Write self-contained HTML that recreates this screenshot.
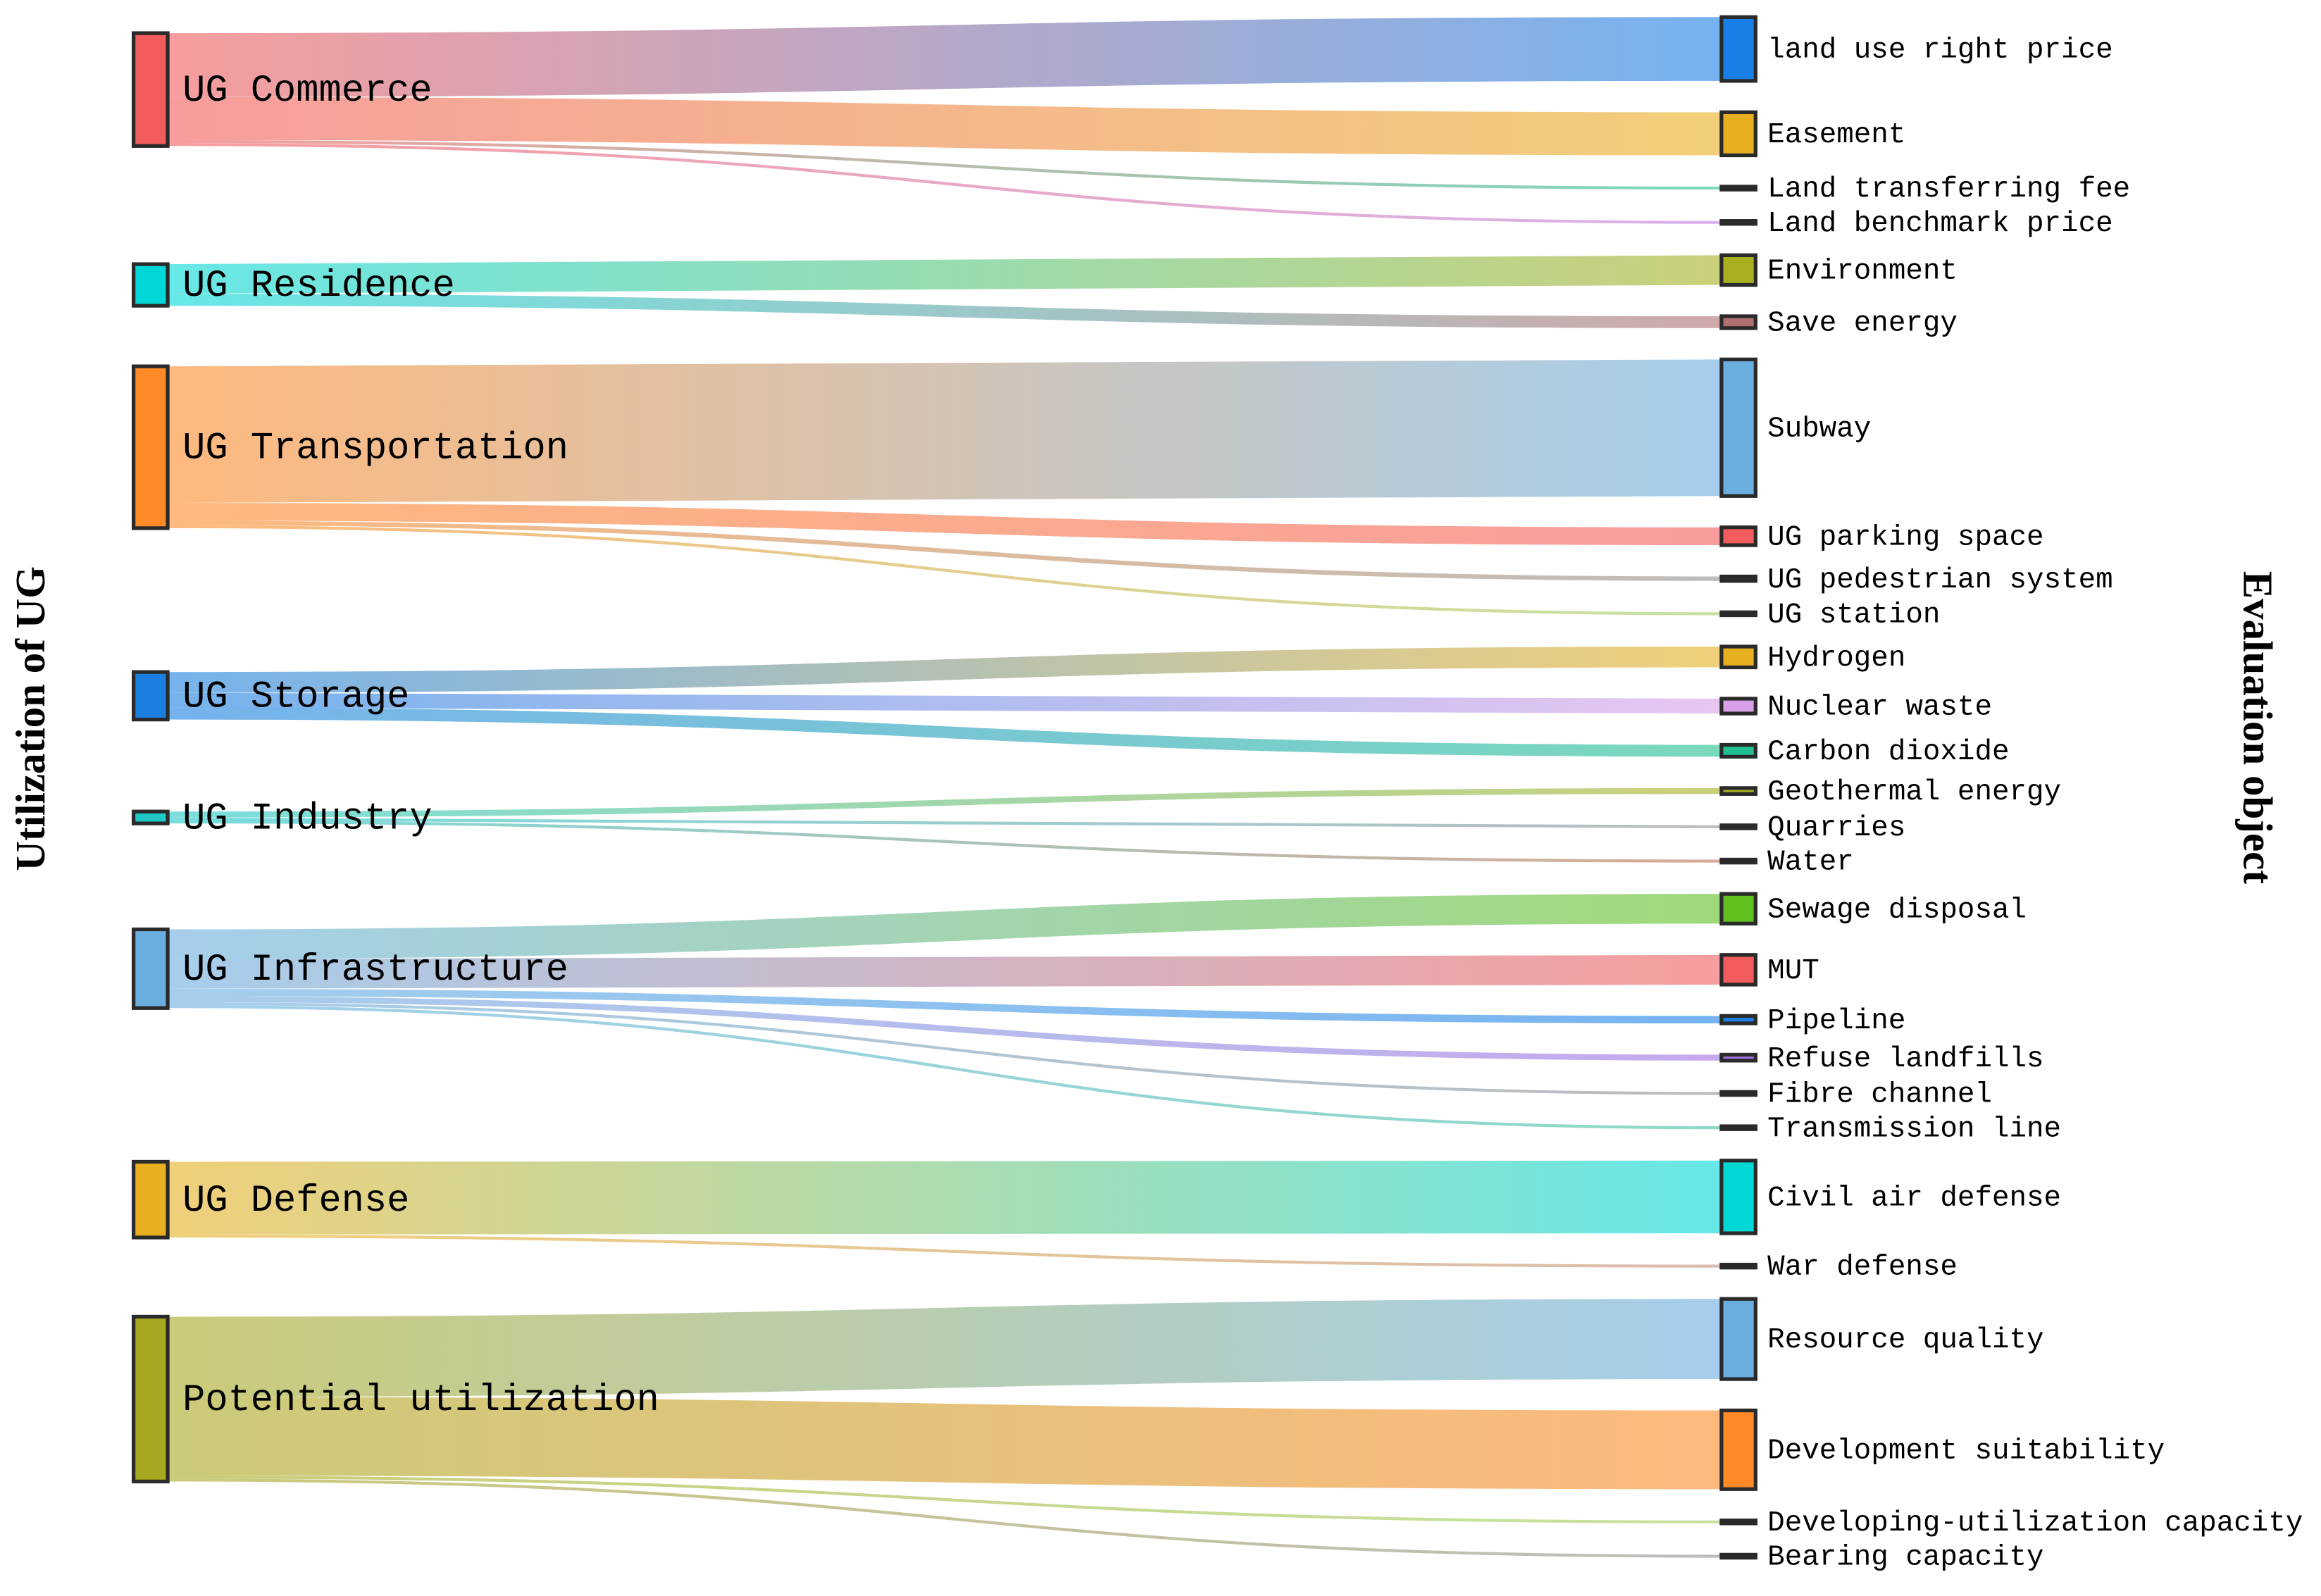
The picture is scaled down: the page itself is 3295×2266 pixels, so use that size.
<!DOCTYPE html>
<html><head><meta charset="utf-8"><style>
html,body{margin:0;padding:0;background:#fff;}
svg{display:block;}
text{font-family:"Liberation Mono","Noto Sans CJK SC",monospace;fill:#000;}
.axis{font-family:"Liberation Serif",serif;font-weight:bold;}
</style></head><body>
<svg id="chart" width="3295" height="2266" viewBox="0 0 1564 1075" preserveAspectRatio="none" xmlns="http://www.w3.org/2000/svg">
<defs id="defs"></defs>
<g id="links"></g>
<g id="nodes"></g>
<text class="axis" x="0" y="0" font-size="28" text-anchor="middle" transform="translate(30,484) rotate(-90)">Utilization of UG</text>
<text class="axis" x="0" y="0" font-size="28" text-anchor="middle" transform="translate(1512,490) rotate(90)">Evaluation object</text>
</svg>
<script>
const sources = ["UG Commerce","UG Residence","UG Transportation","UG Storage","UG Industry","UG Infrastructure","UG Defense","Potential utilization"];
const sourceColors = ["#f25c5c","#00d8d8","#ff8a27","#1a7fe0","#20c8c8","#6aaee0","#e8b020","#a8a820"];
const targets = ["land use right price","Easement","Land transferring fee","Land benchmark price","Environment","Save energy","Subway","UG parking space","UG pedestrian system","UG station","Hydrogen","Nuclear waste","Carbon dioxide","Geothermal energy","Quarries","Water","Sewage disposal","MUT","Pipeline","Refuse landfills","Fibre channel","Transmission line","Civil air defense","War defense","Resource quality","Development suitability","Developing-utilization capacity","Bearing capacity"];
const targetColors = ["#1a80e8","#e8b020","#20c090","#c080e0","#a8b020","#b07070","#6aaee0","#f25c5c","#909090","#a0d060","#e8b020","#d8a0e8","#20c090","#a8b020","#909090","#c07050","#60c020","#f25c5c","#1a80e8","#a070e0","#909090","#40c0a0","#00d8d8","#c09080","#6aaee0","#ff8a27","#a0d060","#909090"];
const linkSource = [0,0,0,0,1,1,2,2,2,2,3,3,3,4,4,4,5,5,5,5,5,5,6,6,7,7,7,7];
const linkValue = [43,29,2,2,20,8,92,12,3,2,14,10,8,4,2,2,20,20,5,4,2,2,49,2,54,53,2,2];

const NS="http://www.w3.org/2000/svg";
const LX0=90,LX1=113,RX0=1160,RX1=1183,TOP=11.5,GAP=21.1;
function mk(tag,attrs){const e=document.createElementNS(NS,tag);for(const k in attrs)e.setAttribute(k,attrs[k]);return e;}
const defs=document.getElementById('defs');
const gl=document.getElementById('links'),gn=document.getElementById('nodes');
const tY=[];let y=TOP;
for(let i=0;i<targets.length;i++){tY.push(y);y+=linkValue[i]+GAP;}
const sY=[],sH=[];
for(let s=0;s<sources.length;s++){let sum=0,w=0;for(let i=0;i<linkValue.length;i++)if(linkSource[i]===s){sum+=linkValue[i]*(tY[i]+linkValue[i]/2);w+=linkValue[i];}
 sH.push(w);sY.push(sum/w-w/2);}
const offs=sY.slice();
for(let i=0;i<linkValue.length;i++){
 const s=linkSource[i],v=linkValue[i];
 const y0=offs[s]+v/2;offs[s]+=v;const y1=tY[i]+v/2;
 const gid='g'+i;
 const g=mk('linearGradient',{id:gid,gradientUnits:'userSpaceOnUse',x1:LX1,x2:RX0,y1:0,y2:0});
 g.appendChild(mk('stop',{offset:'0','stop-color':sourceColors[s]}));
 g.appendChild(mk('stop',{offset:'1','stop-color':targetColors[i]}));
 defs.appendChild(g);
 const xm=(LX1+RX0)/2;
 const p=mk('path',{d:`M${LX1},${y0}C${xm},${y0} ${xm},${y1} ${RX0},${y1}`,fill:'none',stroke:`url(#${gid})`,'stroke-width':Math.max(v,1.5),'stroke-opacity':0.6});
 
 
 gl.appendChild(p);
}
for(let s=0;s<sources.length;s++){
 const r=mk('rect',{x:LX0,y:sY[s],width:LX1-LX0,height:sH[s],fill:sourceColors[s],stroke:'#2a2a2a','stroke-width':2.5});
 
 
 gn.appendChild(r);
 const t=mk('text',{x:LX1+10,y:sY[s]+sH[s]/2+1,'font-size':25.5,'dominant-baseline':'central'});
 t.textContent=sources[s];
 
 
 gn.appendChild(t);
}
for(let i=0;i<targets.length;i++){
 const v=linkValue[i];
 const r=mk('rect',{x:RX0,y:tY[i],width:RX1-RX0,height:v,fill:v<=3?'#333':targetColors[i],stroke:'#2a2a2a','stroke-width':2.5});
 
 
 gn.appendChild(r);
 const t=mk('text',{x:RX1+11,y:tY[i]+v/2+1,'font-size':19.4,'dominant-baseline':'central'});
 t.setAttribute('x',RX1+11-3);
 t.textContent=targets[i];
 
 
 gn.appendChild(t);
}
</script>
</body></html>
